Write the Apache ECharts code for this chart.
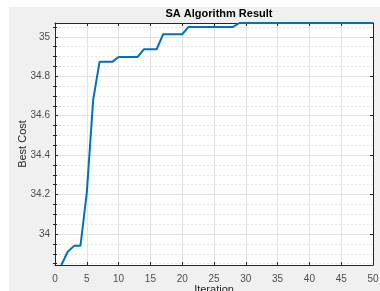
<!DOCTYPE html>
<html><head><meta charset="utf-8">
<script src="https://cdn.jsdelivr.net/npm/echarts@6/dist/echarts.min.js"></script>
<style>html,body{margin:0;padding:0;background:#fff}#c{width:380px;height:291px}</style>
</head><body><div id="c"></div>
<script>
const iterations = [1,2,3,4,5,6,7,8,9,10,11,12,13,14,15,16,17,18,19,20,21,22,23,24,25,26,27,28,29,30,31,32,33,34,35,36,37,38,39,40,41,42,43,44,45,46,47,48,49,50];
const bestCost = [33.843,33.91,33.94,33.94,34.21,34.68,34.873,34.873,34.873,34.898,34.898,34.898,34.898,34.937,34.937,34.937,35.013,35.013,35.013,35.013,35.05,35.05,35.05,35.05,35.05,35.05,35.05,35.05,35.07,35.07,35.07,35.07,35.07,35.07,35.07,35.07,35.07,35.07,35.07,35.07,35.07,35.07,35.07,35.07,35.07,35.07,35.07,35.07,35.07,35.07];
const yMajorTicks = [34, 34.2, 34.4, 34.6, 34.8, 35];
const yMinorTicks = [33.85,33.9,33.95,34.05,34.1,34.15,34.25,34.3,34.35,34.45,34.5,34.55,34.65,34.7,34.75,34.85,34.9,34.95,35.05];
const yMin = 33.843, yMax = 35.07;
const title = 'SA Algorithm Result';

const chart = echarts.init(document.getElementById('c'), null, {renderer:'canvas'});
const font = 'Liberation Sans, Arial, sans-serif';
const axisCol = '#262626';
const baseY = {type:'value', min:yMin, max:yMax, splitNumber:5};
chart.setOption({
  animation:false,
  backgroundColor:'#ffffff',
  graphic:[{type:'rect', z:-10, shape:{x:9,y:7,width:371,height:284}, style:{fill:'#f0f0f0'}}],
  title:{text:title, left:214, top:3, textAlign:'center',
    textStyle:{fontFamily:font, fontSize:11, fontWeight:'bold', color:'#000'}},
  grid:{left:55, right:7, top:23, bottom:26, show:true, backgroundColor:'#fff', borderWidth:0,
    containLabel:false, outerBoundsMode:'none'},
  xAxis:[
    {type:'value', min:0, max:50, interval:5, position:'bottom',
     name:'Iteration', nameLocation:'middle', nameGap:19, nameMoveOverlap:false,
     nameTextStyle:{fontFamily:font, fontSize:11, color:'#262626', verticalAlign:'top'},
     axisLine:{show:true, onZero:false, lineStyle:{color:axisCol, width:1}},
     axisTick:{show:true, inside:true, length:3, lineStyle:{color:axisCol}},
     axisLabel:{fontFamily:font, fontSize:10, color:'#4d4d4d', margin:9},
     splitLine:{show:true, lineStyle:{color:'#e3e3e3', width:1}}},
    {type:'value', min:0, max:50, interval:5, position:'top',
     axisLine:{show:true, onZero:false, lineStyle:{color:axisCol, width:1}},
     axisTick:{show:true, inside:true, length:3, lineStyle:{color:axisCol}},
     axisLabel:{show:false}, splitLine:{show:false}}
  ],
  yAxis:[
    Object.assign({}, baseY, {position:'left',
     name:'Best Cost', nameLocation:'middle', nameGap:27, nameMoveOverlap:false,
     nameTextStyle:{fontFamily:font, fontSize:11, color:'#262626'},
     axisLine:{show:true, onZero:false, lineStyle:{color:axisCol, width:1}},
     axisTick:{show:true, inside:true, length:3, customValues:yMajorTicks, lineStyle:{color:axisCol}},
     axisLabel:{fontFamily:font, fontSize:10, color:'#4d4d4d', margin:5, customValues:yMajorTicks,
       formatter:v=>String(+v.toFixed(1))},
     splitLine:{show:true, lineStyle:{color:'#e3e3e3', width:1}}}),
    Object.assign({}, baseY, {position:'left',
     axisLine:{show:false},
     axisTick:{show:true, inside:true, length:2, customValues:yMinorTicks, lineStyle:{color:axisCol}},
     axisLabel:{show:false},
     splitLine:{show:true, lineStyle:{color:'#e6e6e6', width:1, type:[2,2]}}}),
    Object.assign({}, baseY, {position:'right',
     axisLine:{show:true, onZero:false, lineStyle:{color:axisCol, width:1}},
     axisTick:{show:true, inside:true, length:3, customValues:yMajorTicks, lineStyle:{color:axisCol}},
     axisLabel:{show:false}, splitLine:{show:false}}),
    Object.assign({}, baseY, {position:'right',
     axisLine:{show:false},
     axisTick:{show:true, inside:true, length:2, customValues:yMinorTicks, lineStyle:{color:axisCol}},
     axisLabel:{show:false}, splitLine:{show:false}})
  ],
  series:[{type:'line', xAxisIndex:0, yAxisIndex:0, data:iterations.map((x,i)=>[x,bestCost[i]]),
    showSymbol:false, clip:false, lineStyle:{color:'#0072BD', width:2}, itemStyle:{color:'#0072BD'}}]
});
</script></body></html>
